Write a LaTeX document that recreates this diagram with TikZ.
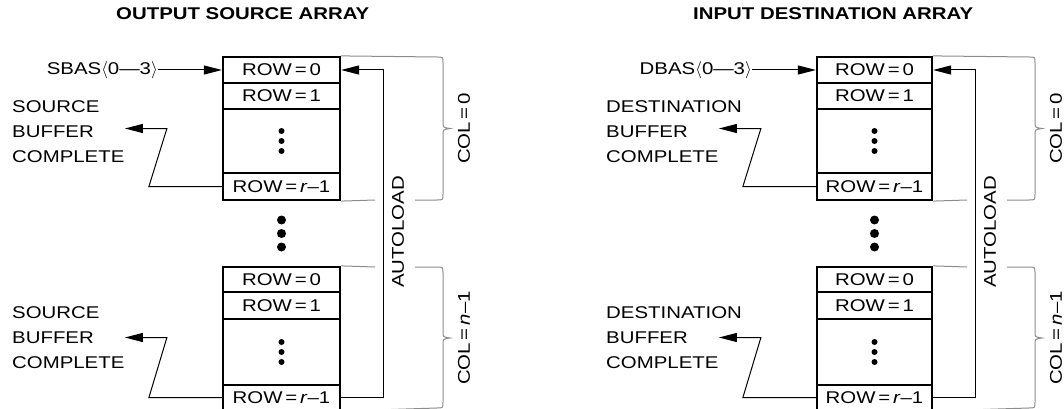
\documentclass[tikz,border=0pt]{standalone}
\usepackage{fontspec}
\setmainfont{Liberation Sans}[FakeStretch=1.2]
\usetikzlibrary{arrows.meta}
\tikzset{
  lbl/.style={font=\fontsize{17}{25}\selectfont, inner sep=0pt},
  ttl/.style={font=\fontsize{17}{20}\selectfont\bfseries, inner sep=0pt},
  cell/.style={draw, line width=2.2pt, font=\fontsize{17}{20}\selectfont, inner sep=0pt},
  arr/.style={line width=1pt, -{Triangle[length=18pt,width=9pt]}},
  gl/.style={line width=1pt, draw=black!45},
  bigdot/.style={fill=black},
}
\newcommand{\eqsp}{\,=\,}
\newcommand{\memarray}[5]{%
  \pgfmathsetmacro\arrxc{(#2+#3)/2}%
  \pgfmathsetmacro\arrwd{#3-#2}%
  % upper block (COL=0)
  \node[cell, minimum width=\arrwd pt, minimum height=26pt] (#1r0) at (\arrxc,70) {ROW\eqsp0};
  \node[cell, minimum width=\arrwd pt, minimum height=26pt] (#1r1) at (\arrxc,96) {ROW\eqsp1};
  \node[cell, minimum width=\arrwd pt, minimum height=64pt] (#1r2) at (\arrxc,141) {};
  \node[cell, minimum width=\arrwd pt, minimum height=27pt] (#1r3) at (\arrxc,186.5) {ROW\eqsp\textit{r}–1};
  \foreach \d in {-10,0,10} \fill ([yshift=\d pt]#1r2.center) circle[radius=3pt];
  % lower block (COL=n-1)
  \node[cell, minimum width=\arrwd pt, minimum height=25pt] (#1r4) at (\arrxc,279.5) {ROW\eqsp0};
  \node[cell, minimum width=\arrwd pt, minimum height=27pt] (#1r5) at (\arrxc,305.5) {ROW\eqsp1};
  \node[cell, minimum width=\arrwd pt, minimum height=66pt] (#1r6) at (\arrxc,352) {};
  \node[cell, minimum width=\arrwd pt, minimum height=25pt] (#1r7) at (\arrxc,397.5) {ROW\eqsp\textit{r}–1};
  \foreach \d in {-10,0,10} \fill ([yshift=\d pt]#1r6.center) circle[radius=3pt];
  % dots between blocks
  \foreach \yy in {220,233.5,247} \fill[bigdot] (\arrxc,\yy) circle[radius=4.5pt];
  % pointer
  \node[lbl, anchor=east] (#1ptr) at (#2-65,70) {#4};
  \draw[arr] (#1ptr.east) -- (#1r0.west);
  % buffer complete labels and arrows
  \node[lbl, anchor=west, align=left] (#1bufa) at (#2-211,132) {#5\\BUFFER\\COMPLETE};
  \node[lbl, anchor=west, align=left] (#1bufb) at (#2-211,337.5) {#5\\BUFFER\\COMPLETE};
  \draw[arr] (#1r3.west) -- ++(-73,0) -- ++(18,-58) -- ++(-42,0);
  \draw[arr] (#1r7.west) -- ++(-73,0) -- ++(18,-60) -- ++(-42,0);
  % autoload loop
  \draw[arr] (#1r7.east) -- ++(42,0) |- (#1r0.east);
  \node[lbl, rotate=90] (#1auto) at (#3+58,232) {AUTOLOAD};
  % braces
  \draw[gl] (#1r0.north east) -- (#3+97,57) .. controls (#3+103,57) .. (#3+103,63)
     -- (#3+103,122) .. controls (#3+103,127.5) .. (#3+110,128.5)
     .. controls (#3+103,129.5) .. (#3+103,135)
     -- (#3+103,194) .. controls (#3+103,200) .. (#3+97,200) -- (#3+75,200);
  \draw[gl] (#1r3.south east) -- (#3+35,200);
  \draw[gl] (#1r4.north east) -- (#3+35,267);
  \draw[gl] (#3+75,267) -- (#3+97,267) .. controls (#3+103,267) .. (#3+103,273)
     -- (#3+103,332) .. controls (#3+103,337) .. (#3+110,338)
     .. controls (#3+103,339) .. (#3+103,344)
     -- (#3+103,402) .. controls (#3+103,408) .. (#3+97,408) -- (#1r7.south east);
  \node[lbl, rotate=90] (#1col0) at (#3+124,128.5) {COL\eqsp0};
  \node[lbl, rotate=90] (#1coln) at (#3+124,338) {COL\eqsp\textit{n}–1};
}
\begin{document}
\begin{tikzpicture}[x=1pt,y=-1pt]
\useasboundingbox (0,0) rectangle (1064,409);
\node[ttl, anchor=west] (Ltitle) at (116,14) {OUTPUT SOURCE ARRAY};
\node[ttl, anchor=west] (Rtitle) at (693,14) {INPUT DESTINATION ARRAY};
\memarray{L}{223}{340}{SBAS$\langle$0—3$\rangle$}{SOURCE}
\memarray{R}{817}{932}{DBAS$\langle$0—3$\rangle$}{DESTINATION}
\end{tikzpicture}
\end{document}
